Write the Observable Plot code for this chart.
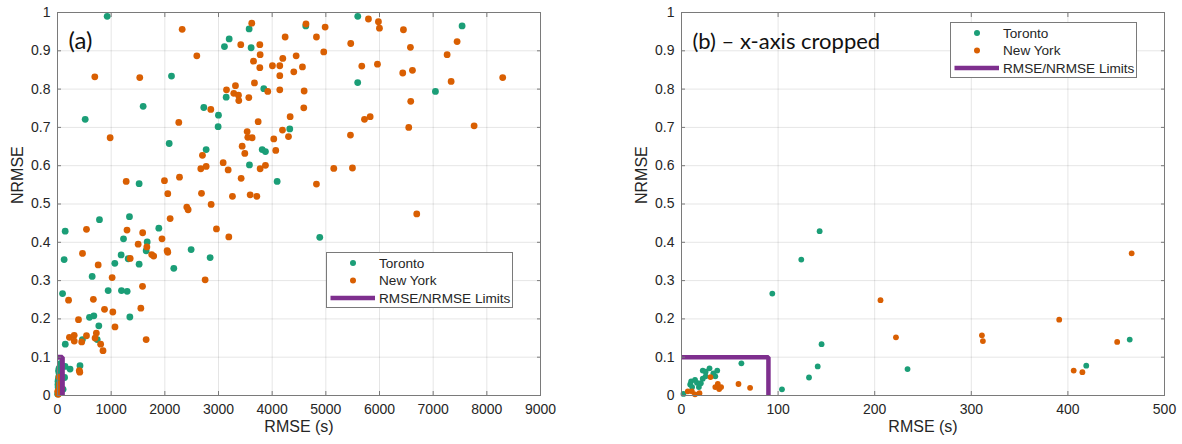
<!DOCTYPE html>
<html><head><meta charset="utf-8">
<script src="https://cdn.jsdelivr.net/npm/d3@7"></script>
<script src="https://cdn.jsdelivr.net/npm/@observablehq/plot@0.6"></script>
<style>
body{margin:0;background:#fff;}
#wrap{position:relative;width:1182px;height:444px;overflow:hidden;background:#fff;}
.panel{position:absolute;top:0;}
.legend{position:absolute;width:187px;height:56px;border:1px solid #7a7a7a;background:#fff;box-sizing:border-box;}
.legend svg{display:block;}
</style></head><body><div id="wrap"></div>
<script>
// ---- data ----
const torontoRMSE = [926, 3571, 3199, 3111, 3608, 2124, 3143, 3844, 1596, 516, 2726, 2999, 2993, 4328, 2770, 3814, 3875, 2081, 3577, 4093, 1521, 782, 1341, 5595, 7539, 4626, 5594, 7042, 4887, 1888, 1230, 1671, 1652, 2490, 1186, 1317, 2844, 1521, 1068, 2167, 646, 944, 1192, 1298, 596, 677, 1348, 770, 740, 143, 124, 94, 145, 141, 132, 104, 62, 234, 419, 464, 2, 9, 10, 14, 16, 18, 20, 22, 25, 29, 22, 25, 37, 35, 11, 33];
const torontoNRMSE = [0.990, 0.957, 0.931, 0.911, 0.908, 0.834, 0.779, 0.801, 0.755, 0.721, 0.752, 0.732, 0.702, 0.696, 0.642, 0.642, 0.637, 0.658, 0.602, 0.559, 0.553, 0.459, 0.467, 0.990, 0.965, 0.965, 0.817, 0.794, 0.413, 0.437, 0.409, 0.401, 0.378, 0.381, 0.367, 0.357, 0.360, 0.343, 0.345, 0.332, 0.311, 0.274, 0.274, 0.272, 0.204, 0.208, 0.205, 0.182, 0.146, 0.429, 0.355, 0.266, 0.134, 0.076, 0.047, 0.016, 0.084, 0.069, 0.078, 0.146, 0.004, 0.029, 0.037, 0.041, 0.033, 0.022, 0.032, 0.065, 0.062, 0.071, 0.044, 0.050, 0.065, 0.050, 0.022, 0.058];
const newYorkRMSE = [2323, 3620, 3415, 3770, 4242, 2596, 3776, 3652, 4447, 4198, 3770, 4005, 4142, 4403, 695, 1533, 4142, 3670, 3149, 3316, 3285, 3372, 3378, 3565, 3918, 4142, 981, 2857, 2260, 3739, 4335, 4192, 4304, 3534, 3546, 3627, 4030, 2701, 3441, 3490, 4067, 3087, 3180, 2670, 2770, 3776, 3875, 3422, 1280, 2273, 1993, 2055, 2683, 3260, 3590, 3714, 2863, 2409, 2434, 2099,
  5794, 5980, 5999, 4630, 4987, 4825, 6446, 5464, 6576, 7446, 7260, 4961, 4564, 5670, 5962, 6433, 6614, 7335, 8296, 4596, 4589, 6582, 5720, 5826, 6545, 7763, 5459, 5148, 5496, 4825, 6694,
  540, 1295, 1587, 2962, 3192, 1947, 1503, 1665, 2043, 2055, 1755, 1792, 1354, 758, 1018, 2751, 1584, 668, 876, 1553, 1031, 1071, 540, 724, 700, 804, 848, 1652,
  466, 206, 391, 222, 311, 312, 451, 406, 415, 59, 71, 6.5, 10.7, 14, 18.6, 30, 35, 37.6, 39, 41];
const newYorkNRMSE = [0.956, 0.972, 0.916, 0.916, 0.936, 0.887, 0.890, 0.873, 0.887, 0.880, 0.856, 0.861, 0.861, 0.845, 0.832, 0.830, 0.835, 0.816, 0.798, 0.809, 0.789, 0.784, 0.770, 0.778, 0.794, 0.798, 0.673, 0.747, 0.713, 0.715, 0.728, 0.693, 0.676, 0.689, 0.674, 0.673, 0.670, 0.627, 0.651, 0.632, 0.640, 0.608, 0.589, 0.592, 0.598, 0.592, 0.601, 0.567, 0.559, 0.570, 0.561, 0.527, 0.528, 0.520, 0.524, 0.520, 0.499, 0.492, 0.485, 0.462,
  0.983, 0.976, 0.959, 0.970, 0.962, 0.936, 0.955, 0.919, 0.909, 0.924, 0.890, 0.897, 0.858, 0.860, 0.865, 0.842, 0.849, 0.820, 0.830, 0.795, 0.751, 0.768, 0.721, 0.728, 0.700, 0.704, 0.680, 0.593, 0.594, 0.552, 0.474,
  0.434, 0.432, 0.425, 0.435, 0.414, 0.409, 0.395, 0.388, 0.378, 0.374, 0.368, 0.364, 0.358, 0.341, 0.308, 0.302, 0.285, 0.251, 0.225, 0.228, 0.218, 0.179, 0.156, 0.163, 0.150, 0.134, 0.117, 0.146,
  0.371, 0.249, 0.198, 0.152, 0.157, 0.142, 0.140, 0.065, 0.061, 0.030, 0.020, 0.011, 0.011, 0.003, 0.006, 0.048, 0.022, 0.030, 0.017, 0.022];

const cityNames = ["Toronto", "New York"];
const cityColors = ["#1b9e77", "#d95f02"];
const limitRMSE = 90;
const limitNRMSE = 0.1;
const limitLabel = "RMSE/NRMSE Limits";
const limitColor = "#7e2f8e";

const xTicksA = [0, 1000, 2000, 3000, 4000, 5000, 6000, 7000, 8000, 9000];
const xTicksB = [0, 100, 200, 300, 400, 500];
const yTicks = [0, 0.1, 0.2, 0.3, 0.4, 0.5, 0.6, 0.7, 0.8, 0.9, 1];
const panelTitles = ["(a)", "(b) \u2013 x-axis cropped"];
const xLabel = "RMSE (s)";
const yLabel = "NRMSE";

// ---- build tables ----
const toronto = torontoRMSE.map((v, i) => ({rmse: v, nrmse: torontoNRMSE[i]}));
const newYork = newYorkRMSE.map((v, i) => ({rmse: v, nrmse: newYorkNRMSE[i]}));
const limitPath = [
  {rmse: 0, nrmse: limitNRMSE},
  {rmse: limitRMSE, nrmse: limitNRMSE},
  {rmse: limitRMSE, nrmse: 0}
];

const FONT = "'Liberation Sans', Arial, sans-serif";
const AXC = "#7a7a7a";
const TXT = "#262626";

function panel({xDomain, xTicks, width, marginLeft, marginRight, r, title, titleSize, titleDy, lineWidth}) {
  const inX = d => d.rmse <= xDomain[1];
  return Plot.plot({
    width, height: 444,
    marginLeft, marginRight, marginTop: 12, marginBottom: 49,
    style: {fontFamily: FONT, fontSize: "14px", color: TXT, background: "white", overflow: "visible"},
    x: {domain: xDomain},
    y: {domain: [0, 1]},
    marks: [
      Plot.gridX({ticks: xTicks, stroke: "#000", strokeOpacity: 0.1}),
      Plot.gridY({ticks: yTicks, stroke: "#000", strokeOpacity: 0.1}),
      Plot.dot(toronto.filter(inX), {x: "rmse", y: "nrmse", r, fill: cityColors[0], stroke: "none"}),
      Plot.dot(newYork.filter(inX), {x: "rmse", y: "nrmse", r, fill: cityColors[1], stroke: "none"}),
      Plot.line(limitPath, {x: "rmse", y: "nrmse", stroke: limitColor, strokeWidth: lineWidth, strokeLinejoin: "miter", clip: true}),
      Plot.frame({stroke: AXC}),
      Plot.axisX({ticks: xTicks, anchor: "bottom", tickSize: -4, fill: "none", stroke: AXC, label: null}),
      Plot.axisX({ticks: xTicks, anchor: "top", tickSize: -4, fill: "none", stroke: AXC, label: null}),
      Plot.axisY({ticks: yTicks, anchor: "left", tickSize: -4, fill: "none", stroke: AXC, label: null}),
      Plot.axisY({ticks: yTicks, anchor: "right", tickSize: -4, fill: "none", stroke: AXC, label: null}),
      Plot.axisX({ticks: xTicks, anchor: "bottom", tickSize: 0, tickPadding: 9, stroke: "none", fill: TXT, tickFormat: d3.format("d"), label: null}),
      Plot.axisY({ticks: yTicks, anchor: "left", tickSize: 0, tickPadding: 7, stroke: "none", fill: TXT, tickFormat: d3.format("~g"), label: null}),
      Plot.text([xLabel], {text: d => d, frameAnchor: "bottom", dy: 36, fontSize: 16, fill: TXT}),
      Plot.text([yLabel], {text: d => d, frameAnchor: "left", dx: -40, rotate: -90, fontSize: 16, fill: TXT}),
      Plot.text([title], {text: d => d, frameAnchor: "top-left", dx: 11, dy: titleDy, textAnchor: "start", fontSize: titleSize, fontFamily: "Lato, 'Open Sans', sans-serif", fill: "#111"})
    ]
  });
}

function legend(left, top) {
  const div = document.createElement("div");
  div.className = "legend";
  div.style.left = left + "px";
  div.style.top = top + "px";
  const t = (y, s) => `<text x="52" y="${y}" dy="0.35em" font-family="${FONT.replace(/'/g, "")}" font-size="13.6" fill="${TXT}">${s}</text>`;
  div.innerHTML = `<svg width="185" height="54">
    <circle cx="26" cy="10" r="3" fill="${cityColors[0]}"/>${t(10, cityNames[0])}
    <circle cx="26" cy="27.5" r="3" fill="${cityColors[1]}"/>${t(27.5, cityNames[1])}
    <line x1="3.5" x2="48" y1="45" y2="45" stroke="${limitColor}" stroke-width="4.5"/>${t(45, limitLabel)}
  </svg>`;
  return div;
}

const wrap = document.getElementById("wrap");
const a = panel({xDomain: [0, 9000], xTicks: xTicksA, width: 591, marginLeft: 57, marginRight: 51, r: 3.4, title: panelTitles[0], titleSize: 24, titleDy: 19, lineWidth: 5});
a.classList.add("panel"); a.style.left = "0px";
const b = panel({xDomain: [0, 500], xTicks: xTicksB, width: 591, marginLeft: 90, marginRight: 18, r: 2.9, title: panelTitles[1], titleSize: 22, titleDy: 21, lineWidth: 4.5});
b.classList.add("panel"); b.style.left = "591px";
wrap.appendChild(a);
wrap.appendChild(b);
wrap.appendChild(legend(326, 252));
wrap.appendChild(legend(950, 22));
</script>
</body></html>
